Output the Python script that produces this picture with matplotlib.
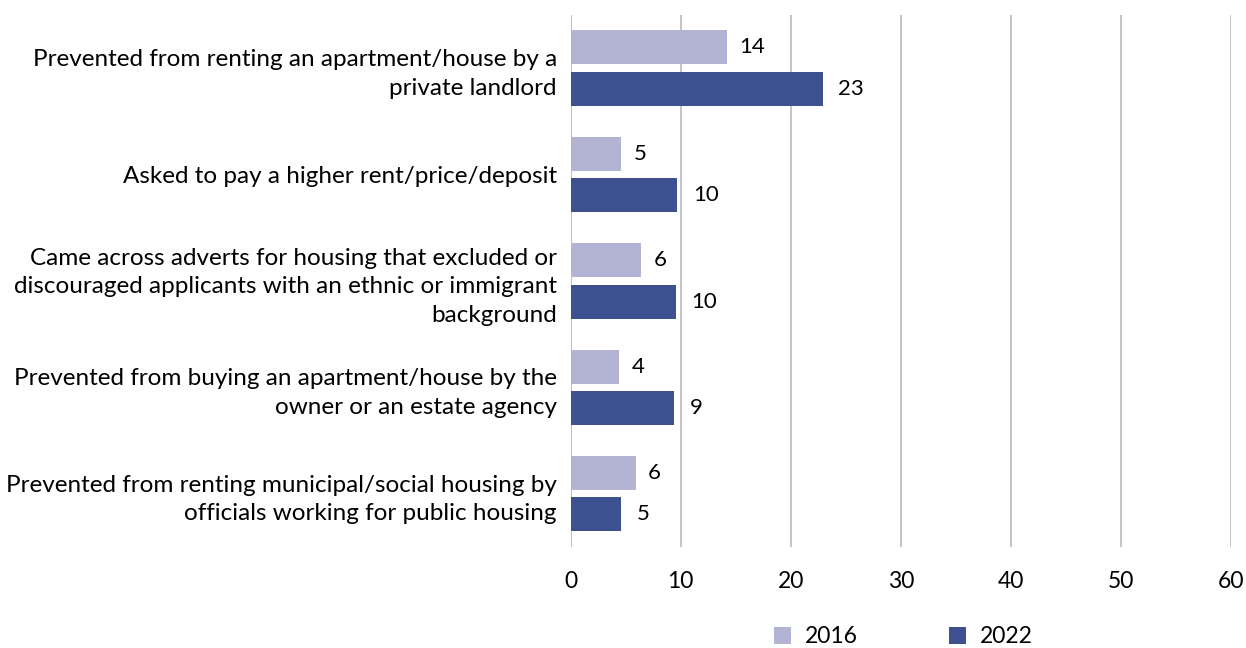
import numpy as np
import matplotlib.pyplot as plt

plt.rcParams['font.family'] = ['Lato', 'DejaVu Sans']

categories = [
    "Prevented from renting an apartment/house by a\nprivate landlord",
    "Asked to pay a higher rent/price/deposit",
    "Came across adverts for housing that excluded or\ndiscouraged applicants with an ethnic or immigrant\nbackground",
    "Prevented from buying an apartment/house by the\nowner or an estate agency",
    "Prevented from renting municipal/social housing by\nofficials working for public housing",
]
vals_2016 = [14.2, 4.6, 6.4, 4.4, 5.9]
vals_2022 = [22.9, 9.7, 9.6, 9.4, 4.6]
labels_2016 = ["14", "5", "6", "4", "6"]
labels_2022 = ["23", "10", "10", "9", "5"]

c2016 = "#b3b4d4"
c2022 = "#3d5090"

fig = plt.figure(figsize=(12.46, 6.48), dpi=100)
ax = fig.add_axes([0.458, 0.156, 0.530, 0.821])

y = np.arange(len(categories))
h = 0.32
gap = 0.07
b1 = ax.barh(y - (h + gap) / 2, vals_2016, height=h, color=c2016, label="2016", zorder=3)
b2 = ax.barh(y + (h + gap) / 2, vals_2022, height=h, color=c2022, label="2022", zorder=3)
ax.bar_label(b1, labels=labels_2016, padding=9, fontsize=16)
ax.bar_label(b2, labels=labels_2022, padding=11, fontsize=16)

ax.set_xlim(0, 60)
ax.set_ylim(len(categories) - 0.5, -0.5)
ax.set_xticks(range(0, 61, 10))
ax.set_yticks(y)
ax.set_yticklabels(categories, fontsize=17.5, linespacing=1.45)
ax.xaxis.grid(True, color="#bfbfbf", linewidth=1.3)
ax.set_axisbelow(True)
for s in ax.spines.values():
    s.set_visible(False)
ax.axvline(0, color="#bfbfbf", linewidth=1.3, zorder=1)
ax.tick_params(axis="both", length=0)
ax.tick_params(axis="x", pad=17, labelsize=16.5)
ax.tick_params(axis="y", pad=10)

fig.legend(handles=[b1, b2], loc="center", bbox_to_anchor=(0.725, 0.017), ncol=2,
           frameon=False, fontsize=16.5, handlelength=0.75, handleheight=0.75,
           columnspacing=4.0, handletextpad=0.6)

fig.savefig("out.png", dpi=100)
